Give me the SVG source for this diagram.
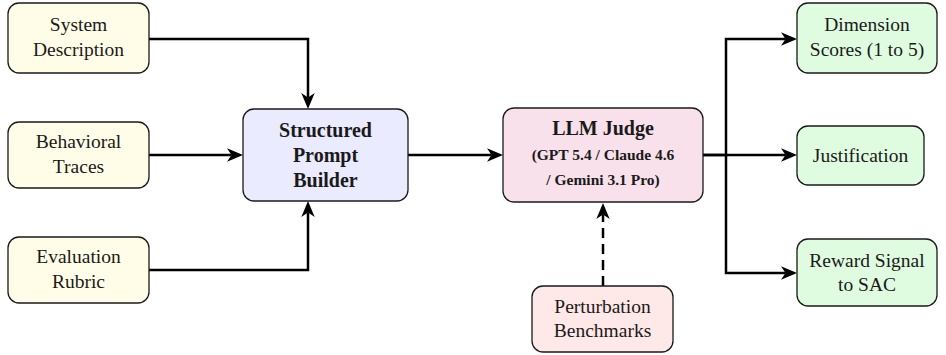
<svg xmlns="http://www.w3.org/2000/svg" width="946" height="355" viewBox="0 0 946 355">
<style>
.box{stroke:#1a1a1a;stroke-width:1.3}
.in{fill:#FFFDE7}
.mid{fill:#EBEBFF}
.judge{fill:#F8E1EA}
.pert{fill:#FFE8E8}
.out{fill:#E0FCE0}
text{font-family:"Liberation Serif","Times New Roman",serif;font-size:19.5px;fill:#1a1a1a;text-anchor:middle}
.b{font-weight:bold;font-size:20px}
.s{font-weight:bold;font-size:15.5px}
.c{fill:none;stroke:#000;stroke-width:2.5;marker-end:url(#ah)}
.d{stroke-dasharray:10 6}
</style>
<defs>
<marker id="ah" viewBox="0 0 17 15" refX="5" refY="7.5" markerWidth="17" markerHeight="15" markerUnits="userSpaceOnUse" orient="auto">
<path d="M0.5,0.8 L16.5,7.5 L0.5,14.2 L5,7.5 Z" fill="#000"/>
</marker>
</defs>
<g id="connectors">
<path class="c" d="M149,39 H308 V97.5"/>
<path class="c" d="M148,155 H231.5"/>
<path class="c" d="M149,270 H308 V212.5"/>
<path class="c" d="M408,155 H491.5"/>
<path class="c d" d="M603,286 V214.5"/>
<path class="c" d="M703,155 H726 V39 H785.5"/>
<path class="c" d="M703,155 H785.5"/>
<path class="c" d="M726,155 V273 H785.5"/>
</g>
<g id="system-description">
<rect class="box in" x="8" y="3" width="141" height="70" rx="11"/>
<text x="78.5" y="31">System</text>
<text x="78.5" y="56">Description</text>
</g>
<g id="behavioral-traces">
<rect class="box in" x="8" y="122" width="141" height="66" rx="11"/>
<text x="78.5" y="148">Behavioral</text>
<text x="78.5" y="173">Traces</text>
</g>
<g id="evaluation-rubric">
<rect class="box in" x="8" y="237" width="141" height="66" rx="11"/>
<text x="78.5" y="263">Evaluation</text>
<text x="78.5" y="288">Rubric</text>
</g>
<g id="structured-prompt-builder">
<rect class="box mid" x="243" y="109" width="165" height="92" rx="11"/>
<text class="b" x="325.5" y="137">Structured</text>
<text class="b" x="325.5" y="162">Prompt</text>
<text class="b" x="325.5" y="187">Builder</text>
</g>
<g id="llm-judge">
<rect class="box judge" x="503" y="108" width="200" height="94" rx="11"/>
<text class="b" x="603" y="135">LLM Judge</text>
<text class="s" x="603" y="160">(GPT 5.4 / Claude 4.6</text>
<text class="s" x="603" y="185">/ Gemini 3.1 Pro)</text>
</g>
<g id="perturbation-benchmarks">
<rect class="box pert" x="532" y="286" width="141" height="66" rx="11"/>
<text x="602.5" y="313">Perturbation</text>
<text x="602.5" y="337">Benchmarks</text>
</g>
<g id="dimension-scores">
<rect class="box out" x="797" y="3" width="140" height="70" rx="11"/>
<text x="867" y="31">Dimension</text>
<text x="867" y="56">Scores (1 to 5)</text>
</g>
<g id="justification">
<rect class="box out" x="797" y="126" width="127" height="59" rx="11"/>
<text x="860.5" y="162">Justification</text>
</g>
<g id="reward-signal">
<rect class="box out" x="797" y="239" width="140" height="67" rx="11"/>
<text x="867" y="267">Reward Signal</text>
<text x="867" y="291">to SAC</text>
</g>
</svg>
